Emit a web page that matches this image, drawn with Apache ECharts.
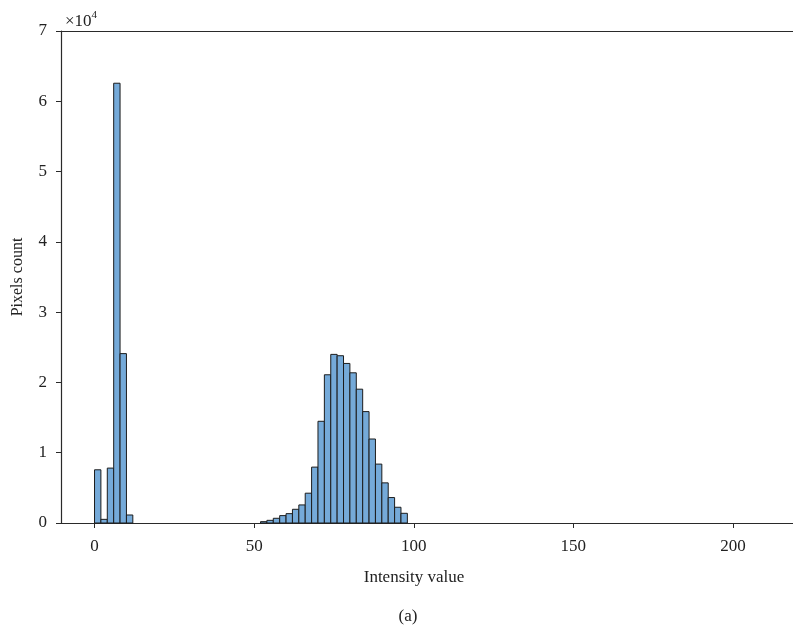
<!DOCTYPE html>
<html>
<head>
<meta charset="utf-8">
<script src="https://cdn.jsdelivr.net/npm/echarts@6/dist/echarts.min.js"></script>
<style>
html,body{margin:0;padding:0;background:#fff;}
#chart{width:793px;height:631px;}
</style>
</head>
<body>
<div id="chart"></div>
<script>
// Histogram bin left edges (intensity), bin width 2
var binWidth = 2;
var binStarts = [0, 2, 4, 6, 8, 10,
  52, 54, 56, 58, 60, 62, 64, 66, 68, 70, 72, 74, 76, 78, 80, 82, 84, 86, 88, 90, 92, 94, 96];
var pixelCounts = [7570, 520, 7810, 62570, 24100, 1140,
  190, 380, 670, 1050, 1330, 1950, 2570, 4240, 7950, 14470, 21090, 23990, 23800, 22700, 21370, 19040, 15850, 11950, 8380, 5710, 3620, 2240, 1380];
var xTickValues = [0, 50, 100, 150, 200];
var yTickLabels = ['0', '1', '2', '3', '4', '5', '6', '7'];

var FONT = 'Liberation Serif';
var data = binStarts.map(function (s, i) { return [s, pixelCounts[i]]; });

var chart = echarts.init(document.getElementById('chart'), null, {renderer: 'canvas'});
chart.setOption({
  animation: false,
  backgroundColor: '#fff',
  grid: {left: 61, right: 0, top: 31, bottom: 108, show: false},
  xAxis: [{
    type: 'value', min: -10.5, max: 218.8,
    splitLine: {show: false},
    axisLine: {show: true, onZero: false, lineStyle: {color: '#2a2a2a', width: 1.2}},
    axisTick: {show: true, inside: false, length: 5, lineStyle: {color: '#2a2a2a'}, customValues: xTickValues},
    axisLabel: {fontFamily: FONT, fontSize: 17, color: '#222', margin: 15, customValues: xTickValues}
  }, {
    type: 'value', position: 'top', min: -10.5, max: 218.8,
    splitLine: {show: false},
    axisLine: {show: true, onZero: false, lineStyle: {color: '#2a2a2a', width: 1.2}},
    axisTick: {show: false}, axisLabel: {show: false}
  }],
  yAxis: {
    type: 'value', min: 0, max: 70000, interval: 10000,
    splitLine: {show: false},
    axisLine: {show: true, onZero: false, lineStyle: {color: '#2a2a2a', width: 1.2}},
    axisTick: {show: true, inside: false, length: 5, lineStyle: {color: '#2a2a2a'}},
    axisLabel: {fontFamily: FONT, fontSize: 17, color: '#222', margin: 14,
      formatter: function (v) { return yTickLabels[Math.round(v / 10000)]; }},
    name: 'Pixels count', nameLocation: 'middle', nameGap: 35, nameRotate: 90,
    nameTextStyle: {fontFamily: FONT, fontSize: 16, color: '#222'}
  },
  series: [{
    type: 'custom',
    xAxisIndex: 0,
    data: data,
    renderItem: function (params, api) {
      var x0 = api.value(0), y = api.value(1);
      var p0 = api.coord([x0, y]);
      var p1 = api.coord([x0 + binWidth, 0]);
      return {
        type: 'rect',
        shape: {x: p0[0], y: p0[1], width: p1[0] - p0[0], height: p1[1] - p0[1]},
        style: {fill: '#75aad9', stroke: '#1c1c1c', lineWidth: 1}
      };
    }
  }],
  graphic: [
    {type: 'text', left: 65, top: 10, style: {
      text: '{a|×10}{b|4}', rich: {
        a: {fontFamily: FONT, fontSize: 17, fill: '#222', verticalAlign: 'bottom'},
        b: {fontFamily: FONT, fontSize: 11, fill: '#222', verticalAlign: 'top', padding: [0, 0, 9, 0]}
      }}},
    {type: 'text', x: 414, y: 578, style: {text: 'Intensity value', fontFamily: FONT, fontSize: 17, fill: '#222', align: 'center', verticalAlign: 'middle'}},
    {type: 'text', x: 408, y: 617, style: {text: '(a)', fontFamily: FONT, fontSize: 17, fill: '#222', align: 'center', verticalAlign: 'middle'}}
  ]
});
</script>
</body>
</html>
